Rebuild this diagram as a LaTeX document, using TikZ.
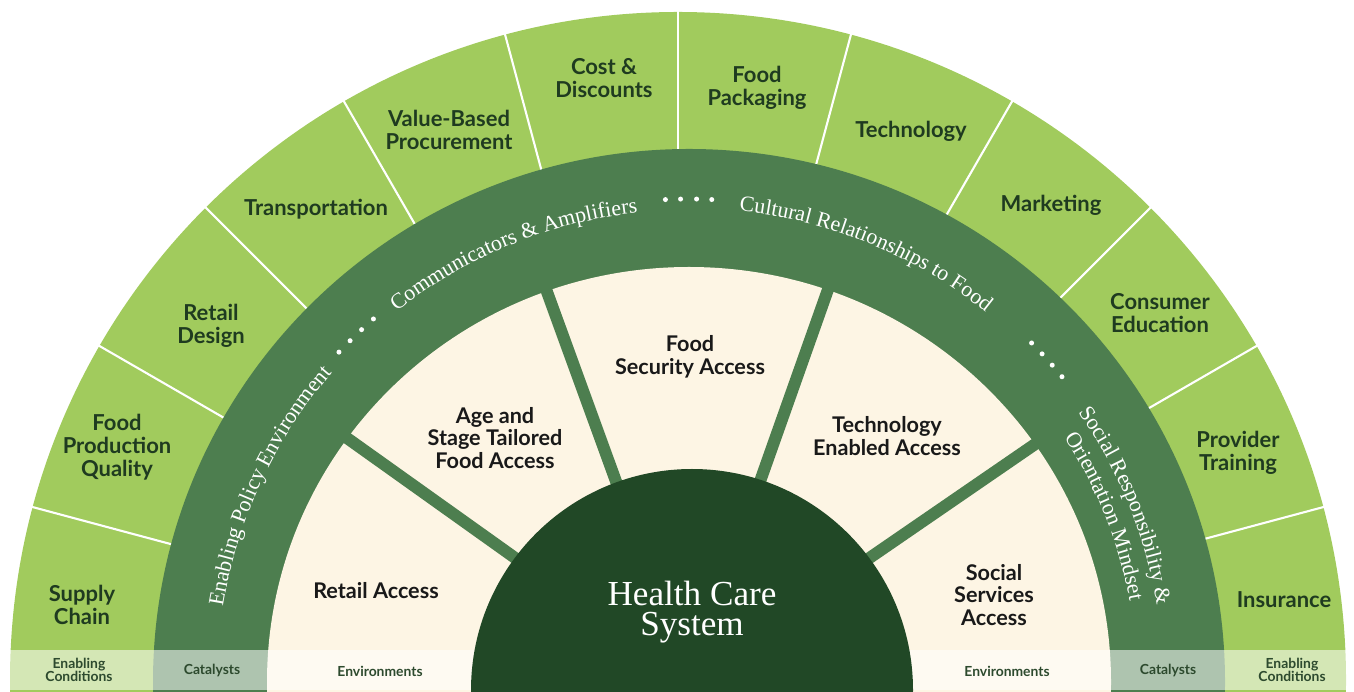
\documentclass[tikz,border=0pt]{standalone}
\usepackage{fontspec}
\setmainfont{Liberation Serif}
\setsansfont{Lato}
\usetikzlibrary{decorations.text}
\definecolor{ringlight}{HTML}{A1CB5D}
\definecolor{ringdark}{HTML}{4D7E4F}
\definecolor{creamfill}{HTML}{FDF5E4}
\definecolor{corefill}{HTML}{214826}
\definecolor{leafink}{HTML}{1F3B20}
\definecolor{bandink}{HTML}{2D4A2E}
\newcommand\ringfont{\fontsize{12.5}{14}\selectfont}

\begin{document}
\begin{tikzpicture}[line cap=round,line join=round,x=0.02cm,y=0.02cm,
    outerlbl/.style={font=\sffamily\bfseries\fontsize{12.5}{13}\selectfont,text=leafink,align=center},
    innerlbl/.style={font=\sffamily\bfseries\fontsize{12.3}{13}\selectfont,text=black!90,align=center},
    bandlbl/.style={font=\sffamily\bfseries\fontsize{7.9}{7.5}\selectfont,text=bandink,align=center},
    corelbl/.style={font=\fontsize{20}{17}\selectfont,text=white,align=center},
    curvetext/.style={decorate,decoration={text along path,text align=center,text color=white}}]
                \useasboundingbox (0,0) rectangle (1354,692);
                \clip (0,0) rectangle (1354,692);
                % rings
                \fill [ringlight] (678,12) circle [radius=668];
                \draw [white, line width=1.2pt] (678,12) ++(15:500) -- ++(15:175);
                \draw [white, line width=1.2pt] (678,12) ++(30:500) -- ++(30:175);
                \draw [white, line width=1.2pt] (678,12) ++(45:500) -- ++(45:175);
                \draw [white, line width=1.2pt] (678,12) ++(60:500) -- ++(60:175);
                \draw [white, line width=1.2pt] (678,12) ++(75:500) -- ++(75:175);
                \draw [white, line width=1.2pt] (678,12) ++(90:500) -- ++(90:175);
                \draw [white, line width=1.2pt] (678,12) ++(105:500) -- ++(105:175);
                \draw [white, line width=1.2pt] (678,12) ++(120:500) -- ++(120:175);
                \draw [white, line width=1.2pt] (678,12) ++(135:500) -- ++(135:175);
                \draw [white, line width=1.2pt] (678,12) ++(150:500) -- ++(150:175);
                \draw [white, line width=1.2pt] (678,12) ++(165:500) -- ++(165:175);
                \fill [ringdark] (689,10) ellipse [x radius=536, y radius=533];
                \fill [creamfill] (689,10) ellipse [x radius=422, y radius=415];
                \draw [ringdark, line width=6.8pt, line cap=butt] (689,10) ++(144.5:150) -- ++(144.5:285);
                \draw [ringdark, line width=6.8pt, line cap=butt] (689,10) ++(110:150) -- ++(110:285);
                \draw [ringdark, line width=6.8pt, line cap=butt] (689,10) ++(70.5:150) -- ++(70.5:285);
                \draw [ringdark, line width=6.8pt, line cap=butt] (689,10) ++(34.5:150) -- ++(34.5:285);
                % bottom band
                \fill [white, opacity=0.55] (0,2) rectangle (1354,42);
                \fill [corefill] (692,2) circle [radius=221];
                % curved catalyst texts
                \path [curvetext, shift={(689,10)}, decoration={text={|\ringfont|Enabling Policy Environment}}] (180:472) arc [start angle=180, end angle=130, radius=472];
                \path [curvetext, shift={(689,10)}, decoration={text={|\ringfont|Communicators {\&} Amplifiers}}] (137.25:472) arc [start angle=137.25, end angle=87.25, radius=472];
                \path [curvetext, shift={(689,10)}, decoration={text={|\ringfont|Cultural Relationships to Food}}] (92.6:474) arc [start angle=92.6, end angle=42.6, radius=474];
                \path [curvetext, shift={(689,10)}, decoration={text={|\ringfont|Social Responsibility {\&}}}] (47:474) arc [start angle=47, end angle=-3, radius=474];
                \path [curvetext, shift={(689,10)}, decoration={text={|\ringfont|Orientation Mindset}}] (46.75:448) arc [start angle=46.75, end angle=-3.25, radius=448];
                \fill [white] (689,10) ++(136.7:481) circle [radius=2.5];
                \fill [white] (689,10) ++(134.8:481) circle [radius=2.5];
                \fill [white] (689,10) ++(132.9:481) circle [radius=2.5];
                \fill [white] (689,10) ++(131:481) circle [radius=2.5];
                \fill [white] (689,10) ++(92.8:483) circle [radius=2.5];
                \fill [white] (689,10) ++(91:483) circle [radius=2.5];
                \fill [white] (689,10) ++(89.1:483) circle [radius=2.5];
                \fill [white] (689,10) ++(87.3:483) circle [radius=2.5];
                \fill [white] (689,10) ++(44.7:482) circle [radius=2.5];
                \fill [white] (689,10) ++(42.9:482) circle [radius=2.5];
                \fill [white] (689,10) ++(41.1:482) circle [radius=2.5];
                \fill [white] (689,10) ++(39.3:482) circle [radius=2.5];
                % enabling conditions
                \node [outerlbl] (supply) at (82,87) {Supply\\Chain};
                \node [outerlbl] (foodprod) at (117,245) {Food\\Production\\Quality};
                \node [outerlbl] (retaildes) at (211,366) {Retail\\Design};
                \node [outerlbl] (transport) at (316,483) {Transportation};
                \node [outerlbl] (valueproc) at (449,562) {Value-Based\\Procurement};
                \node [outerlbl] (cost) at (604,614) {Cost \&\\Discounts};
                \node [outerlbl] (packaging) at (757,604) {Food\\Packaging};
                \node [outerlbl] (technology) at (911,561) {Technology};
                \node [outerlbl] (marketing) at (1051,487) {Marketing};
                \node [outerlbl] (consumer) at (1160,379) {Consumer\\Education};
                \node [outerlbl] (provider) at (1238,239) {Provider\\Training};
                \node [outerlbl] (insurance) at (1284,92) {Insurance};
                % environments
                \node [innerlbl] (retailacc) at (376,101) {Retail Access};
                \node [innerlbl] (agestage) at (495,254) {Age and\\Stage Tailored\\Food Access};
                \node [innerlbl] (foodsec) at (690,335) {Food\\Security Access};
                \node [innerlbl] (techacc) at (887,256) {Technology\\Enabled Access};
                \node [innerlbl] (socialserv) at (994,97) {Social\\Services\\Access};
                \node [corelbl] (health) at (692,80) {Health Care\\System};
                % band labels
                \node [bandlbl] (enableL) at (79,22) {Enabling\\Conditions};
                \node [bandlbl] (catalystL) at (212,21) {Catalysts};
                \node [bandlbl] (envL) at (380,21) {Environments};
                \node [bandlbl] (envR) at (1007,21) {Environments};
                \node [bandlbl] (catalystR) at (1168,21) {Catalysts};
                \node [bandlbl] (enableR) at (1292,22) {Enabling\\Conditions};
            \end{tikzpicture}
\end{document}
